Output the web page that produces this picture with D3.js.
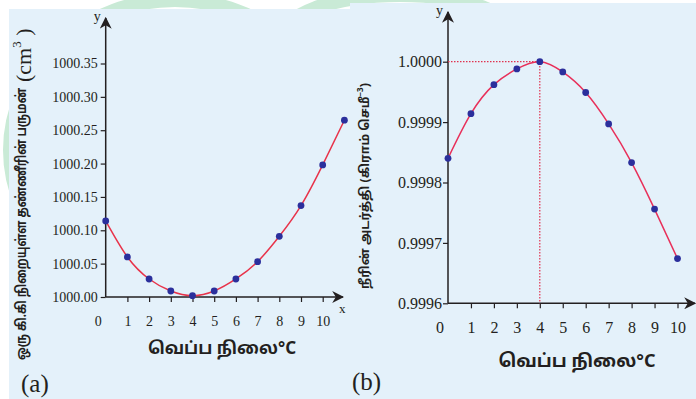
<!DOCTYPE html>
<html>
<head>
<meta charset="utf-8">
<script src="https://d3js.org/d3.v7.min.js"></script>
<style>
  body { margin: 0; background: #fff; }
  svg { display: block; }
</style>
</head>
<body>
<div id="container"></div>
<script>
// temperature (°C) and values
var tempA = [0, 1, 2, 3, 4, 5, 6, 7, 8, 9, 10, 11];
var volume = [1000.114, 1000.060, 1000.027, 1000.009, 1000.002, 1000.009,
              1000.027, 1000.053, 1000.091, 1000.137, 1000.198, 1000.265];
var tempB = [0, 1, 2, 3, 4, 5, 6, 7, 8, 9, 10];
var density = [0.99984, 0.999914, 0.999962, 0.999988, 1.0000, 0.999983,
               0.999949, 0.999897, 0.999833, 0.999756, 0.999674];
var xTicks = [1, 2, 3, 4, 5, 6, 7, 8, 9, 10];
var volTicks = [1000.00, 1000.05, 1000.10, 1000.15, 1000.20, 1000.25, 1000.30, 1000.35];
var denTicks = [0.9996, 0.9997, 0.9998, 0.9999, 1.0000];

var width = 696, height = 399;
var serif = "'Liberation Serif', 'Times New Roman', serif";
var sans = "'Noto Sans', 'Noto Sans Tamil', 'DejaVu Sans', sans-serif";
var axisCol = "#231f20";

var svg = d3.select("#container").append("svg")
  .attr("width", width).attr("height", height);

// faint watermark
var wm = svg.append("g").attr("fill", "none").attr("stroke", "#c9ead6").attr("stroke-width", 14);
wm.append("ellipse").attr("cx", 175).attr("cy", 150).attr("rx", 165).attr("ry", 150);
wm.append("ellipse").attr("cx", 400).attr("cy", 40).attr("rx", 120).attr("ry", 45);

// panels
svg.append("rect").attr("x", 9).attr("y", 9).attr("width", 341).attr("height", 390).attr("fill", "#e4f1fa");
svg.append("rect").attr("x", 350).attr("y", 3).attr("width", 346).attr("height", 396).attr("fill", "#e4f1fa");

var defs = svg.append("defs");
defs.append("marker").attr("id", "arr")
  .attr("viewBox", "0 0 10 10").attr("refX", 9).attr("refY", 5)
  .attr("markerWidth", 12).attr("markerHeight", 12).attr("markerUnits", "userSpaceOnUse")
  .attr("orient", "auto")
  .append("path").attr("d", "M0,0 L10,5 L0,10 L3,5 Z").attr("fill", axisCol);

function drawPanel(o) {
  var g = svg.append("g");
  var x = d3.scaleLinear().domain([0, 10]).range(o.xr);
  var y = d3.scaleLinear().domain(o.yd).range(o.yr);

  // x axis
  var gx = g.append("g")
    .attr("transform", "translate(0," + y(o.yd[0]) + ")")
    .call(d3.axisBottom(x).tickValues(xTicks).tickSize(5).tickPadding(o.xpad).tickFormat(d3.format("d")));
  gx.select(".domain").remove();
  gx.selectAll("line").attr("stroke", axisCol).attr("stroke-width", 1.2);
  gx.selectAll("text").style("font-family", serif).style("font-size", o.fs + "px").attr("fill", axisCol);
  g.append("line")
    .attr("x1", x(0)).attr("x2", o.xEnd)
    .attr("y1", y(o.yd[0])).attr("y2", y(o.yd[0]))
    .attr("stroke", axisCol).attr("stroke-width", 1.5).attr("marker-end", "url(#arr)");

  // y axis
  var gy = g.append("g")
    .attr("transform", "translate(" + x(0) + ",0)")
    .call(d3.axisLeft(y).tickValues(o.yt).tickSize(5).tickPadding(o.ypad).tickFormat(d3.format(o.yf)));
  gy.select(".domain").remove();
  gy.selectAll("line").attr("stroke", axisCol).attr("stroke-width", 1.2);
  gy.selectAll("text").style("font-family", serif).style("font-size", o.fs + "px").attr("fill", axisCol);
  g.append("line")
    .attr("x1", x(0)).attr("x2", x(0))
    .attr("y1", y(o.yd[0])).attr("y2", o.yEnd)
    .attr("stroke", axisCol).attr("stroke-width", 1.5).attr("marker-end", "url(#arr)");

  // origin, axis letters
  g.append("text").attr("x", x(0) - 4).attr("y", y(o.yd[0]) + o.xpad + 5 + o.fs * 0.71)
    .attr("text-anchor", "end").style("font-family", serif).style("font-size", o.fs + "px")
    .attr("fill", axisCol).text("0");
  g.append("text").attr("x", x(0) - 12).attr("y", o.yEnd + 3)
    .style("font-family", serif).style("font-size", "14px").attr("fill", axisCol).text("y");

  return { g: g, x: x, y: y };
}

// ---- panel (a)
var A = drawPanel({
  xr: [105.7, 322.7], yd: [1000, 1000.35], yr: [297, 63.5],
  yt: volTicks, yf: ".2f", fs: 14, xpad: 14, ypad: 3, xEnd: 343, yEnd: 18
});
A.g.append("text").attr("x", 339).attr("y", 313).style("font-family", serif).style("font-size", "13px")
  .attr("fill", axisCol).text("x");

var ptsA = tempA.map(function(t, i) { return [t, volume[i]]; });
A.g.append("path").datum(ptsA)
  .attr("fill", "none").attr("stroke", "#e8334a").attr("stroke-width", 1.5)
  .attr("d", d3.line().x(function(d) { return A.x(d[0]); }).y(function(d) { return A.y(d[1]); })
    .curve(d3.curveNatural));
A.g.selectAll("circle").data(ptsA).enter().append("circle")
  .attr("cx", function(d) { return A.x(d[0]); })
  .attr("cy", function(d) { return A.y(d[1]); })
  .attr("r", 3.4).attr("fill", "#2b2f9c");

A.g.append("text").attr("x", 222).attr("y", 354).attr("text-anchor", "middle")
  .attr("font-family", sans).attr("font-weight", "bold").attr("font-size", 17).attr("fill", axisCol)
  .text("வெப்ப நிலை°C");

// y title (a): Tamil part stretched to the length seen in the picture, unit above it
A.g.append("text").attr("transform", "translate(26,360) rotate(-90)")
  .attr("fill", axisCol).attr("font-family", sans).attr("font-weight", "bold").attr("font-size", 14)
  .attr("textLength", 272).attr("lengthAdjust", "spacingAndGlyphs")
  .text("ஒரு கி.கி நிறையுள்ள தண்ணீரின் பருமன்");
var yu = A.g.append("text").attr("transform", "translate(31,82) rotate(-90)")
  .attr("fill", axisCol).attr("font-family", serif).attr("font-size", 22);
yu.append("tspan").text("(cm");
yu.append("tspan").attr("font-size", 13).attr("dy", -10).text("3");
yu.append("tspan").attr("dy", 10).text(" )");

A.g.append("text").attr("x", 21).attr("y", 392).attr("font-family", serif).attr("font-size", 25)
  .attr("fill", axisCol).text("(a)");

// ---- panel (b)
var B = drawPanel({
  xr: [448, 677.5], yd: [0.9996, 1.0000], yr: [303.3, 61.7],
  yt: denTicks, yf: ".4f", fs: 16, xpad: 13, ypad: 1, xEnd: 695, yEnd: 12
});

var ptsB = tempB.map(function(t, i) { return [t, density[i]]; });
var peak = ptsB[d3.maxIndex(ptsB, function(d) { return d[1]; })];
B.g.append("path")
  .attr("fill", "none").attr("stroke", "#e0324f").attr("stroke-width", 1.2).attr("stroke-dasharray", "1.5,1.5")
  .attr("d", "M" + B.x(0) + "," + B.y(peak[1]) + "H" + B.x(peak[0]) + "V" + B.y(0.9996));
B.g.append("path").datum(ptsB)
  .attr("fill", "none").attr("stroke", "#e8305a").attr("stroke-width", 1.5)
  .attr("d", d3.line().x(function(d) { return B.x(d[0]); }).y(function(d) { return B.y(d[1]); })
    .curve(d3.curveNatural));
B.g.selectAll("circle").data(ptsB).enter().append("circle")
  .attr("cx", function(d) { return B.x(d[0]); })
  .attr("cy", function(d) { return B.y(d[1]); })
  .attr("r", 3.4).attr("fill", "#2b2f9c");

B.g.append("text").attr("x", 577).attr("y", 367).attr("text-anchor", "middle")
  .attr("font-family", sans).attr("font-weight", "bold").attr("font-size", 18).attr("fill", axisCol)
  .text("வெப்ப நிலை°C");

var yb = B.g.append("text").attr("transform", "translate(369,186) rotate(-90)")
  .attr("text-anchor", "middle").attr("fill", axisCol)
  .attr("font-family", sans).attr("font-weight", "bold").attr("font-size", 12.5);
yb.append("tspan").text("நீரின் அடர்த்தி (கிராம் செமீ");
yb.append("tspan").attr("font-size", 8).attr("dy", -6).text("−3");
yb.append("tspan").attr("dy", 6).text(")");

B.g.append("text").attr("x", 352).attr("y", 390).attr("font-family", serif).attr("font-size", 25)
  .attr("fill", axisCol).text("(b)");
</script>
</body>
</html>
